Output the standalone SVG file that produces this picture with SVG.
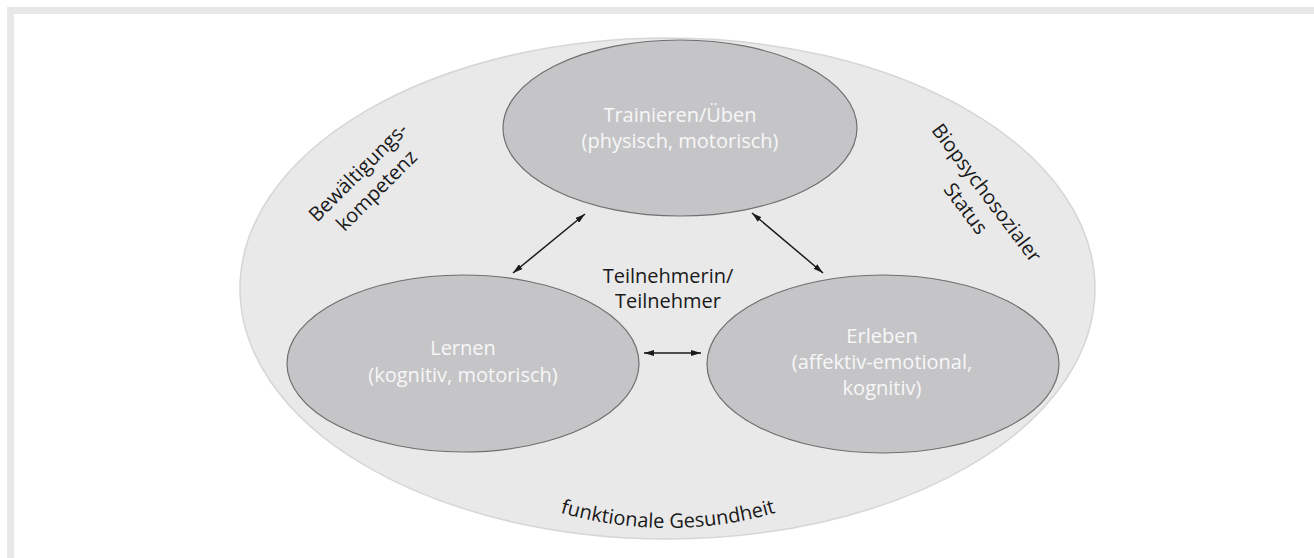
<svg xmlns="http://www.w3.org/2000/svg" width="1314" height="558" viewBox="0 0 1314 558">
<defs>
<style>
.frame{fill:none;stroke:#e8e8e8;stroke-width:7}
.outer{fill:#e9e9ea;stroke:#d6d6d7;stroke-width:1.5}
.inner{fill:#c5c5c7;stroke:#6f6f6f;stroke-width:1.2}
.wt{font-family:"Open Sans","Noto Sans",sans-serif;font-size:20px;fill:#f7f7f7;text-anchor:middle}
.bt{font-family:"Open Sans","Noto Sans",sans-serif;font-size:20px;fill:#1a1a1a;text-anchor:middle}
.conn{stroke:#1a1a1a;stroke-width:1.5;fill:none;marker-start:url(#ah);marker-end:url(#ah)}
</style>
<marker id="ah" markerUnits="userSpaceOnUse" viewBox="0 0 10 6" refX="10" refY="3" markerWidth="10" markerHeight="6" orient="auto-start-reverse">
<path d="M0,0 L10,3 L0,6 Z" fill="#1a1a1a"/>
</marker>
<path id="arc" d="M 530,503 Q 668,553 806,503"/>
</defs>
<rect class="frame" x="10.5" y="10.5" width="1400" height="700"/>
<g id="context">
<ellipse class="outer" cx="667.5" cy="288.5" rx="427.5" ry="250.5"/>
<text class="bt" transform="translate(363,177) rotate(-45)"><tspan x="0" y="0">Bewältigungs-</tspan><tspan x="0" y="26">kompetenz</tspan></text>
<text class="bt" transform="translate(981,197) rotate(53)"><tspan x="0" y="0">Biopsychosozialer</tspan><tspan x="0" y="26">Status</tspan></text>
<text class="bt"><textPath href="#arc" startOffset="50%">funktionale Gesundheit</textPath></text>
</g>
<g id="center">
<text class="bt" x="668" y="283">Teilnehmerin/</text>
<text class="bt" x="668" y="308">Teilnehmer</text>
</g>
<g id="trainieren">
<ellipse class="inner" cx="680" cy="128" rx="177" ry="88"/>
<text class="wt" x="680" y="122">Trainieren/Üben</text>
<text class="wt" x="680" y="148">(physisch, motorisch)</text>
</g>
<g id="lernen">
<ellipse class="inner" cx="463" cy="363.5" rx="176" ry="88.5"/>
<text class="wt" x="463" y="355">Lernen</text>
<text class="wt" x="463" y="382">(kognitiv, motorisch)</text>
</g>
<g id="erleben">
<ellipse class="inner" cx="883" cy="364" rx="176" ry="89"/>
<text class="wt" x="882" y="343">Erleben</text>
<text class="wt" x="882" y="369">(affektiv-emotional,</text>
<text class="wt" x="882" y="395">kognitiv)</text>
</g>
<g id="connectors">
<line class="conn" x1="585" y1="214" x2="513" y2="273"/>
<line class="conn" x1="752" y1="213" x2="823" y2="273"/>
<line class="conn" x1="644" y1="353" x2="701" y2="353"/>
</g>
</svg>
